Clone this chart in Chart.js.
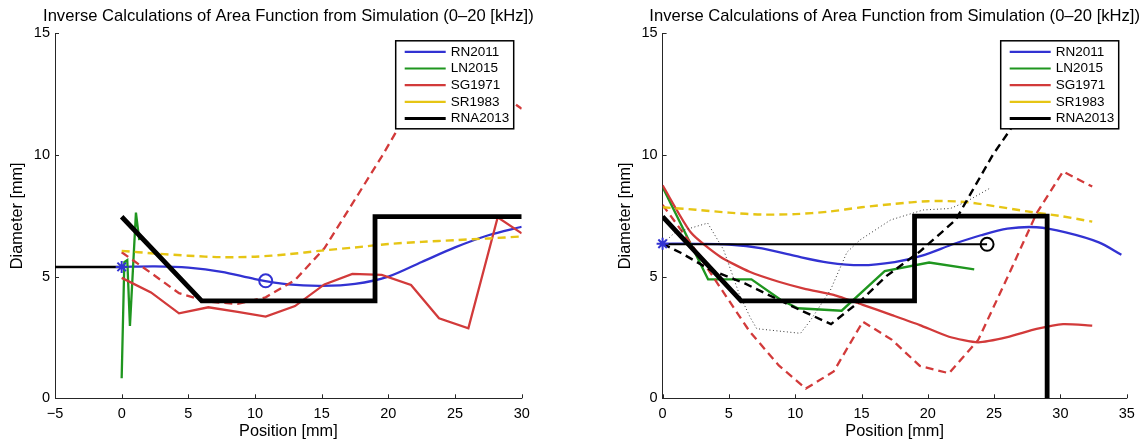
<!DOCTYPE html>
<html>
<head>
<meta charset="utf-8">
<script src="https://cdn.jsdelivr.net/npm/chart.js@4.4.1/dist/chart.umd.min.js"></script>
<style>
body{margin:0;background:#fff;width:1142px;height:440px;overflow:hidden;position:relative}
canvas{position:absolute;top:0}
</style>
</head>
<body>
<canvas id="left" width="571" height="440" style="left:0"></canvas>
<canvas id="right" width="571" height="440" style="left:571px"></canvas>
<script>
// ---- data (mm) ----
const TITLE="Inverse Calculations of Area Function from Simulation (0\u201320 [kHz])";
const LEGEND_NAMES=["RN2011","LN2015","SG1971","SR1983","RNA2013"];
const BLUE="#3232d2",GREEN="#1f961f",RED="#d23a3a",YELLOW="#e6c514",BLACK="#000";
const LEGEND_COLORS=[BLUE,GREEN,RED,YELLOW,BLACK];

// left panel
const L_RN_X=[0,2.5,5,7.5,10,12.5,15,17.5,20,22.5,25,27.5,30];
const L_RN_Y=[5.4,5.42,5.37,5.2,4.9,4.68,4.62,4.7,5.0,5.6,6.2,6.7,7.05];
const L_LN_X=[0,0.2,0.42,0.62,1.07,1.32];
const L_LN_Y=[0.82,5.6,5.68,2.97,7.63,6.5];
const L_SG_X=[0,2.2,4.3,6.5,8.7,10.8,13,15.2,17.3,19.5,21.7,23.8,26,28.2,30];
const L_SG_Y=[4.95,4.35,3.49,3.74,3.55,3.36,3.79,4.68,5.11,5.07,4.66,3.29,2.88,7.44,6.78];
const L_SGD_Y=[6.0,5.15,4.32,3.97,3.88,4.15,4.86,6.16,8.0,9.93,12.0,12.8,13.0,12.6,11.9];
const L_SR_X=[0,2.5,5,7.5,10,12.5,15,17.5,20,22.5,25,27.5,30];
const L_SR_Y=[6.06,5.95,5.86,5.8,5.82,5.92,6.07,6.2,6.34,6.43,6.5,6.57,6.65];
const L_RNA_X=[0,6,19,19,30];
const L_RNA_Y=[7.46,4.0,4.0,7.47,7.47];
const L_REF_X=[-5,0], L_REF_Y=[5.4,5.4];
const L_STAR=[0,5.4], L_CIRC=[10.8,4.83];

// right panel
const R_RN_X=[0,2.5,5,7.5,10,12.5,15,17.5,19.5,22,24,26,28.2,30.4,32.9,34.6];
const R_RN_Y=[6.35,6.35,6.32,6.16,5.85,5.58,5.47,5.6,5.85,6.35,6.7,6.97,7.03,6.82,6.41,5.9];
const R_LN_X=[0,3.43,6.7,8.9,10.2,13.5,16.75,20.1,23.5];
const R_LN_Y=[8.68,4.89,4.89,4.05,3.7,3.6,5.23,5.58,5.3];
const R_SG_X=[0,2.15,4.35,6.56,8.76,10.8,12.9,15.1,17.3,19.4,21.6,23.8,26,28.2,30.2,32.4];
const R_SG_Y=[8.75,6.8,5.82,5.2,4.79,4.49,4.25,3.84,3.42,3.01,2.53,2.3,2.51,2.85,3.05,2.99];
const R_SGD_Y=[7.95,6.35,4.55,2.75,1.35,0.4,1.1,3.15,2.4,1.33,1.03,2.4,4.96,7.6,9.32,8.7];
const R_SR_X=[0,2.5,5,7.5,10,12.5,15,17.5,20,22.5,25,27.5,30,32.4];
const R_SR_Y=[7.85,7.75,7.63,7.55,7.57,7.67,7.85,7.99,8.1,8.08,7.9,7.68,7.49,7.26];
const R_RNA_X=[0,5.92,19,19,29,29];
const R_RNA_Y=[7.47,4.0,4.0,7.49,7.49,0];
const R_DASH_X=[0,1.4,3.6,6.2,10,12.7,15,16.9,19.4,22.1,24.9,26.2,27.5];
const R_DASH_Y=[6.35,5.97,5.28,4.72,3.72,3.05,4.04,5.03,6.03,7.33,10.0,11.03,12.2];
const R_DOT_X=[0.3,0.9,3.4,4.6,5.77,6.6,7.1,10.4,11.15,12.66,13.9,14.87,17.2,19.65,21.7,22.9,24.67];
const R_DOT_Y=[6.5,6.8,7.2,6.1,4.3,3.33,2.86,2.67,3.2,4.45,6.0,6.5,7.33,7.74,7.8,8.08,8.63];
const R_REF_X=[0,24.47], R_REF_Y=[6.33,6.33];
const R_STAR=[0,6.35], R_CIRC=[24.47,6.33];

const FONT="Arial, 'Liberation Sans', sans-serif";
const pts=(xs,ys)=>xs.map((x,i)=>({x,y:ys[i]}));
function line(xs,ys,color,width,dash,tension){
  return {data:pts(xs,ys),showLine:true,borderColor:color,borderWidth:width,borderDash:dash||[],
    tension:tension||0,pointRadius:0,fill:false,borderCapStyle:'butt',borderJoinStyle:'miter'};
}
function mark(p,style,color,r){
  return {data:[{x:p[0],y:p[1]}],showLine:false,clip:false,pointStyle:style,pointRadius:r,
    borderColor:color,pointBorderColor:color,pointBackgroundColor:'rgba(0,0,0,0)',pointBorderWidth:2};
}

// inward ticks, titles, boxed legend
const decor={id:'decor',afterDatasetsDraw(ch){
  const {ctx,chartArea:a,scales:{x,y}}=ch;
  ctx.save();
  ctx.strokeStyle='#262626';ctx.lineWidth=1;
  x.ticks.forEach(t=>{const p=Math.round(x.getPixelForValue(t.value))+.5;ctx.beginPath();ctx.moveTo(p,a.bottom);ctx.lineTo(p,a.bottom-4);ctx.stroke();});
  y.ticks.forEach(t=>{const p=Math.round(y.getPixelForValue(t.value))+.5;ctx.beginPath();ctx.moveTo(a.left,p);ctx.lineTo(a.left+4,p);ctx.stroke();});
  // legend
  const w=118,h=88,lx=a.right-8-w,ly=a.top+7.5;
  ctx.fillStyle='#fff';ctx.fillRect(lx,ly,w,h);
  ctx.strokeStyle='#000';ctx.lineWidth=1.5;ctx.strokeRect(lx,ly,w,h);
  ctx.font='13.5px '+FONT;ctx.textBaseline='middle';ctx.textAlign='left';
  LEGEND_NAMES.forEach((n,i)=>{
    const cy=ly+11+i*16.7;
    ctx.beginPath();ctx.moveTo(lx+9,cy);ctx.lineTo(lx+50,cy);
    ctx.strokeStyle=LEGEND_COLORS[i];ctx.lineWidth=i===4?3:2.2;ctx.stroke();
    ctx.fillStyle='#000';ctx.fillText(n,lx+55,cy);
  });
  // texts
  const cx=(a.left+a.right)/2;
  ctx.fillStyle='#000';ctx.textAlign='center';ctx.textBaseline='alphabetic';
  ctx.font='16.6px '+FONT;
  ctx.fillText(TITLE,cx,21);
  ctx.font='16.3px '+FONT;
  ctx.fillText("Position [mm]",cx,436);
  ctx.translate(a.left-37,(a.top+a.bottom)/2);ctx.rotate(-Math.PI/2);
  ctx.textBaseline='middle';ctx.fillText("Diameter [mm]",0,0);
  ctx.restore();
}};

function makeChart(id,xmin,xmax,yw,rpad,datasets){
  return new Chart(document.getElementById(id),{
    type:'scatter',
    data:{datasets},
    plugins:[decor],
    options:{
      responsive:false,animation:false,
      layout:{padding:{top:33.3,right:rpad,left:0,bottom:0}},
      plugins:{legend:{display:false},tooltip:{enabled:false},title:{display:false}},
      scales:{
        x:{type:'linear',min:xmin,max:xmax,
          afterFit:s=>{s.height=41.7;},
          ticks:{stepSize:5,color:'#000',font:{family:FONT,size:14.5},padding:7,
            callback:v=>String(v).replace('-','\u2212')},
          grid:{drawOnChartArea:false,drawTicks:false},
          border:{display:true,color:'#262626',width:1}},
        y:{type:'linear',min:0,max:15,
          afterFit:s=>{s.width=yw;},
          ticks:{stepSize:5,color:'#000',font:{family:FONT,size:14.5},padding:5},
          grid:{drawOnChartArea:false,drawTicks:false},
          border:{display:true,color:'#262626',width:1}}
      }
    }
  });
}

makeChart('left',-5,30,55,49.3,[
  mark(L_STAR,'star',BLUE,6),
  mark(L_CIRC,'circle',BLUE,6.5),
  line(L_REF_X,L_REF_Y,BLACK,2.5),
  line(L_RNA_X,L_RNA_Y,BLACK,4.8),
  line(L_SR_X,L_SR_Y,YELLOW,2.4,[8,5],0.3),
  line(L_SG_X,L_SGD_Y,RED,2.3,[8,5]),
  line(L_SG_X,L_SG_Y,RED,2.3),
  line(L_LN_X,L_LN_Y,GREEN,2.3),
  line(L_RN_X,L_RN_Y,BLUE,2.3,null,0.3)
]);

makeChart('right',0,35,91.6,15.3,[
  mark(R_STAR,'star',BLUE,6),
  mark(R_CIRC,'circle',BLACK,6.5),
  line(R_REF_X,R_REF_Y,BLACK,2),
  line(R_RNA_X,R_RNA_Y,BLACK,4.8),
  line(R_DASH_X,R_DASH_Y,BLACK,2.4,[8,5]),
  line(R_DOT_X,R_DOT_Y,'#333',1,[1,2.5]),
  line(R_SR_X,R_SR_Y,YELLOW,2.4,[8,5],0.3),
  line(R_SG_X,R_SGD_Y,RED,2.3,[8,5]),
  line(R_SG_X,R_SG_Y,RED,2.3,null,0.2),
  line(R_LN_X,R_LN_Y,GREEN,2.3),
  line(R_RN_X,R_RN_Y,BLUE,2.3,null,0.3)
]);
</script>
</body>
</html>
